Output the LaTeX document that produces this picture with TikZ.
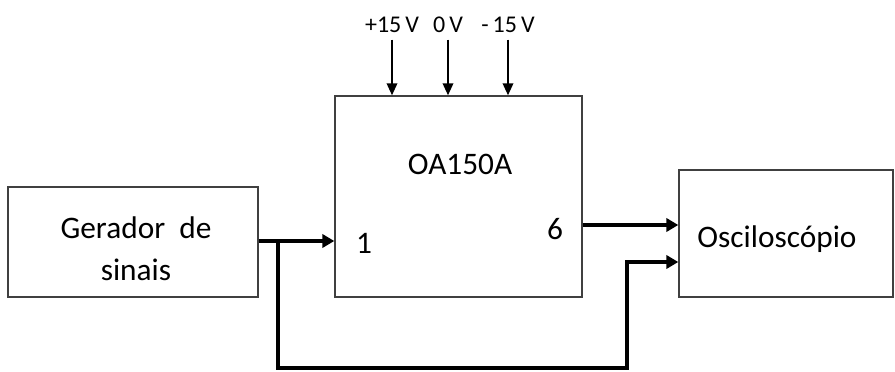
\documentclass[tikz,border=0pt]{standalone}
\usepackage{fontspec}
\setmainfont{Carlito}
\usetikzlibrary{arrows.meta}
\begin{document}
\begin{tikzpicture}[x=0.75pt,y=-0.75pt,
  box/.style={draw=black!75,line width=1.1pt,rectangle,inner sep=0pt},
  txt/.style={font=\fontsize{23.5}{31.5}\selectfont,inner sep=0pt},
  sup/.style={font=\fontsize{18}{22}\selectfont,inner sep=0pt},
  thin/.style={line width=1.1pt,-{Triangle[length=9pt,width=8pt]}},
  thickarrow/.style={line width=3pt,-{Triangle[length=9pt,width=10pt]}}]
\useasboundingbox (0,0) rectangle (895,371);
% boxes
\node[box,minimum width=187.5pt,minimum height=82.5pt] (gen) at (133,242) {};
\node[box,minimum width=185.25pt,minimum height=150.75pt] (oa) at (458.5,196.5) {};
\node[box,minimum width=160.5pt,minimum height=95.25pt] (osc) at (786,233.5) {};
% texts
\node[txt,align=center] (gent) at (136,249) {Gerador\ \ de\\sinais};
\node[txt] (oat) at (460,164) {OA150A};
\node[txt] (in1) at (364,243) {1};
\node[txt] (out6) at (555,229) {6};
\node[txt] (osct) at (777,239) {Osciloscópio};
% supply labels
\node[sup,anchor=south] (p15) at (392,33) {+15\,V};
\node[sup,anchor=south] (z0) at (448,33) {0\,V};
\node[sup,anchor=south] (m15) at (508,33) {-\,15\,V};
\draw[thin] ([yshift=-5pt]p15.south) -- (p15.south |- oa.north);
\draw[thin] ([yshift=-5pt]z0.south) -- (z0.south |- oa.north);
\draw[thin] ([yshift=-5pt]m15.south) -- (m15.south |- oa.north);
% signal connections
\coordinate (br) at (278,241);
\coordinate (b1) at (278,368);
\coordinate (b2) at (627,368);
\coordinate (b3) at (627,262);
\coordinate (o6) at (582,225);
\draw[thickarrow] (gen.east |- br) -- (oa.west |- br);
\draw[thickarrow] (oa.east |- o6) -- (osc.west |- o6);
\draw[thickarrow,line join=miter] (br) -- (b1) -- (b2) -- (b3) -- (osc.west |- b3);
\end{tikzpicture}
\end{document}
